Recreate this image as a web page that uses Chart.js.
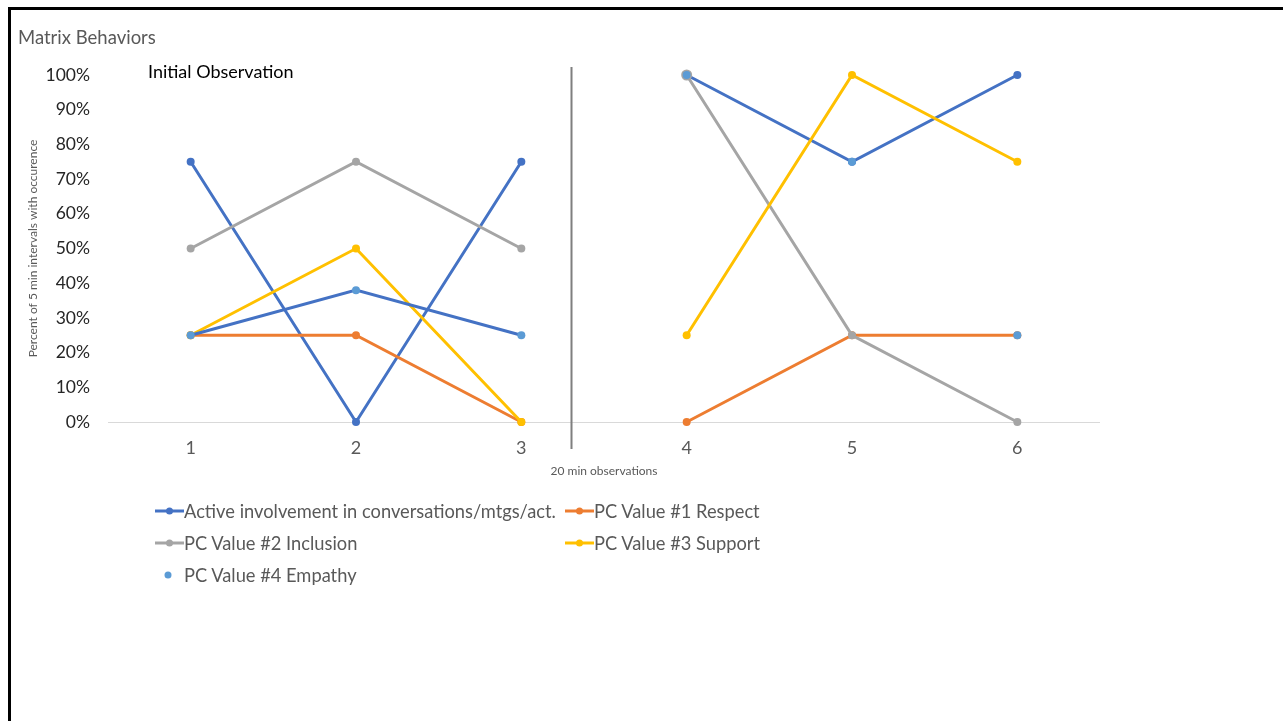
<!DOCTYPE html>
<html>
<head>
<meta charset="utf-8">
<script src="https://cdn.jsdelivr.net/npm/chart.js@4"></script>
<style>
    html, body { margin: 0; padding: 0; background: #fff; overflow: hidden; }
    body { width: 1283px; height: 721px; position: relative; font-family: Lato, "Noto Sans", sans-serif; }
    #frame { position: absolute; left: 8px; top: 7px; width: 1400px; height: 800px; border-left: 3px solid #000; border-top: 3px solid #000; }
    #wrap { position: absolute; left: 0; top: 0; width: 1283px; height: 721px; }
    #title { position: absolute; left: 18px; top: 25px; font-size: 18.5px; color: #595959; line-height: 24px; }
    #legend { position: absolute; left: 155px; top: 499px; display: grid; grid-template-columns: 410px auto; row-gap: 8px; font-size: 18.3px; color: #595959; }
    .item { display: flex; align-items: center; height: 24px; white-space: nowrap; }
    .item svg { flex-shrink: 0; }
</style>
</head>
<body>
<div id="frame"></div>
<div id="wrap"><canvas id="behaviorChart" width="1283" height="721"></canvas></div>
<div id="title">Matrix Behaviors</div>
<div id="legend"></div>
<script>
const categories = ["1", "2", "3", "4", "5", "6"];
const activeInvolvement = [75, 0, 75, 100, 75, 100];
const respect = [25, 25, 0, 0, 25, 25];
const inclusion = [50, 75, 50, 100, 25, 0];
const support = [25, 50, 0, 25, 100, 75];
const empathy = [25, 38, 25, 100, 75, 25];
const yTickValues = [0, 10, 20, 30, 40, 50, 60, 70, 80, 90, 100];

const seriesNames = [
    "Active involvement in conversations/mtgs/act.",
    "PC Value #1 Respect",
    "PC Value #2 Inclusion",
    "PC Value #3 Support",
    "PC Value #4 Empathy",
];
const colors = ["#4472C4", "#ED7D31", "#A5A5A5", "#FFC000", "#5B9BD5"];
const lastInitial = 2; // index of "3", end of the initial phase
const fontFamily = "Lato, 'Noto Sans', sans-serif";

// break every line between the two phases
function phaseColor(color) {
    return function (ctx) {
        return ctx.p0DataIndex === lastInitial ? "transparent" : color;
    };
}

function lineSet(label, data, color, order) {
    return {
        label: label,
        data: data,
        borderColor: color,
        backgroundColor: color,
        pointBackgroundColor: color,
        pointBorderColor: color,
        borderWidth: 3,
        pointRadius: 4,
        pointBorderWidth: 0,
        tension: 0,
        clip: false,
        order: order,
        segment: { borderColor: phaseColor(color) },
    };
}

const inclusionSet = lineSet(seriesNames[2], inclusion, colors[2], 3);
// the inclusion marker at "4" shows as a ring round the empathy one
inclusionSet.pointRadius = function (c) {
    return c.dataIndex === 3 ? 5.5 : 4;
};

const datasets = [
    lineSet(seriesNames[0], activeInvolvement, colors[0], 5),
    lineSet(seriesNames[1], respect, colors[1], 4),
    inclusionSet,
    lineSet(seriesNames[3], support, colors[3], 2),
    {
        label: seriesNames[4],
        data: empathy,
        borderColor: colors[0],
        backgroundColor: colors[4],
        pointBackgroundColor: colors[4],
        pointBorderColor: colors[4],
        borderWidth: 3,
        pointRadius: 4,
        pointBorderWidth: 0,
        clip: false,
        order: 1,
        // only the initial phase has a joining line
        segment: {
            borderColor: function (ctx) {
                return ctx.p0DataIndex < lastInitial ? colors[0] : "transparent";
            },
        },
    },
];

const phasePlugin = {
    id: "phaseMarker",
    afterDatasetsDraw(chart) {
        const x = chart.scales.x;
        const y = chart.scales.y;
        const c = chart.ctx;
        const p3 = x.getPixelForValue(lastInitial);
        const p4 = x.getPixelForValue(lastInitial + 1);
        const lineX = Math.round(p3 + (p4 - p3) * 0.3) + 0.5;
        c.save();
        c.strokeStyle = "#7F7F7F";
        c.lineWidth = 2;
        c.beginPath();
        c.moveTo(lineX, y.getPixelForValue(100) - 8);
        c.lineTo(lineX, y.getPixelForValue(0) + 27);
        c.stroke();
        c.fillStyle = "#000000";
        c.font = "18px " + fontFamily;
        c.textBaseline = "middle";
        c.fillText("Initial Observation", chart.chartArea.left + 40, y.getPixelForValue(100) - 3);
        c.restore();
    },
};

const ctx = document.getElementById("behaviorChart").getContext("2d");
new Chart(ctx, {
    type: "line",
    data: { labels: categories, datasets: datasets },
    plugins: [phasePlugin],
    options: {
        responsive: false,
        animation: false,
        layout: { padding: { left: 26, top: 75, right: 183, bottom: 243 } },
        plugins: {
            legend: { display: false },
            tooltip: { enabled: false },
        },
        scales: {
            x: {
                offset: true,
                grid: { display: false, drawTicks: false },
                border: { display: false },
                ticks: {
                    color: "#595959",
                    padding: 15,
                    font: { family: fontFamily, size: 18 },
                },
                title: {
                    display: true,
                    text: "20 min observations",
                    color: "#595959",
                    padding: 0,
                    font: { family: fontFamily, size: 12 },
                },
                afterFit: function (scale) {
                    scale.height = 56;
                },
            },
            y: {
                min: 0,
                max: 100,
                afterBuildTicks: function (scale) {
                    scale.ticks = yTickValues.map(function (v) {
                        return { value: v };
                    });
                },
                grid: {
                    drawTicks: false,
                    color: function (c) {
                        return c.tick && c.tick.value === 0 ? "#D9D9D9" : "transparent";
                    },
                },
                border: { display: false },
                ticks: {
                    color: "#262626",
                    padding: 18,
                    font: { family: fontFamily, size: 17.5 },
                    callback: function (value) {
                        return value + "%";
                    },
                },
                title: {
                    display: true,
                    text: "Percent of 5 min intervals with occurence",
                    color: "#595959",
                    padding: 0,
                    font: { family: fontFamily, size: 12 },
                },
                afterFit: function (scale) {
                    scale.width = 82;
                },
            },
        },
    },
});

// legend built as html, two columns like the original
const legendBox = document.getElementById("legend");
seriesNames.forEach(function (name, i) {
    const item = document.createElement("div");
    item.className = "item";
    const icon = i === 4
        ? '<svg width="29" height="10"><circle cx="13" cy="5" r="3.5" fill="' + colors[i] + '"/></svg>'
        : '<svg width="29" height="10"><line x1="0" y1="5" x2="29" y2="5" stroke="' + colors[i] +
          '" stroke-width="3"/><circle cx="14.5" cy="5" r="3.5" fill="' + colors[i] + '"/></svg>';
    item.innerHTML = icon + "<span>" + name + "</span>";
    legendBox.appendChild(item);
});
</script>
</body>
</html>
